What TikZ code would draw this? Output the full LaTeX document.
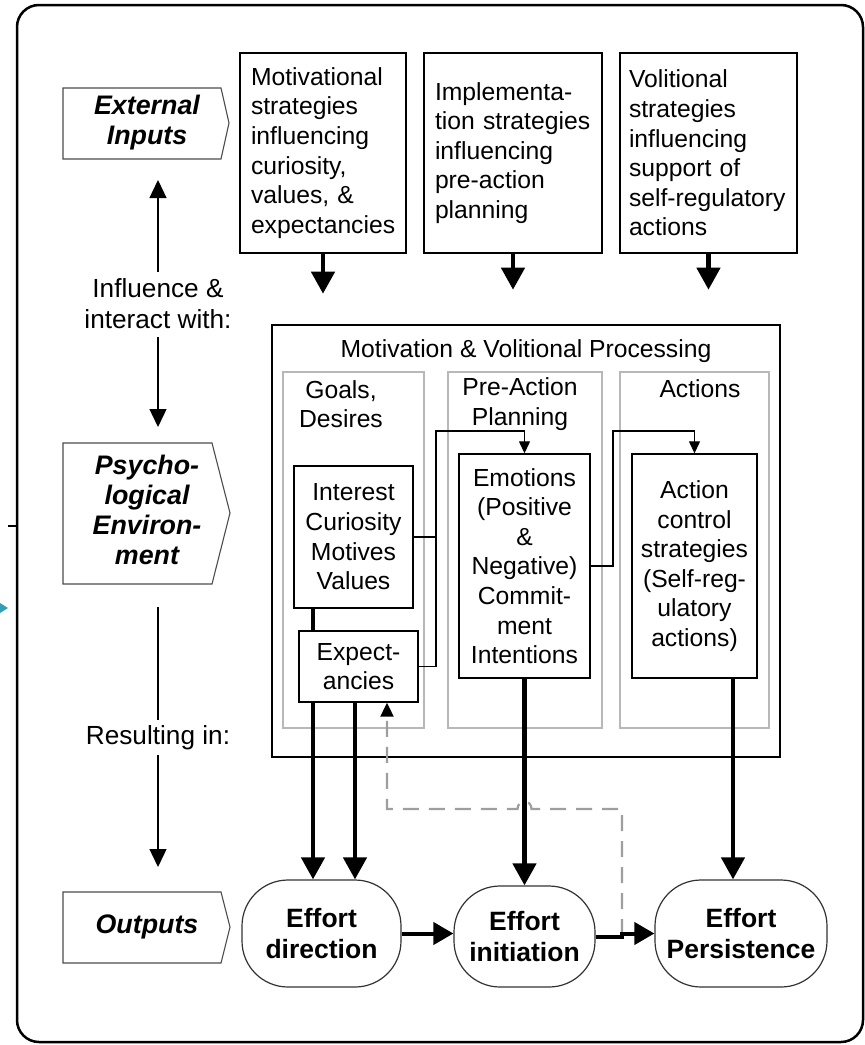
\documentclass[tikz,border=0pt]{standalone}
\usepackage{fontspec}
\setmainfont{Liberation Sans}
\usetikzlibrary{arrows.meta}
\definecolor{tealart}{RGB}{50,160,180}
\begin{document}
\begin{tikzpicture}[x=1pt,y=-1pt,
  txt/.style={font=\fontsize{24.7}{29.6}\selectfont},
  box/.style={draw, line width=1.4pt, fill=white, inner sep=0pt, align=center, txt},
  topbox/.style={box, align=left, inner xsep=11pt, minimum height=200pt},
  colbox/.style={draw=black!28, line width=1.5pt, inner sep=0pt},
  lab/.style={font=\fontsize{26.8}{30}\selectfont\bfseries\itshape, align=center},
  lblshape/.style={draw=black!70, line width=1.1pt},
  side/.style={font=\fontsize{26.2}{31}\selectfont, align=center},
  eff/.style={draw=black!80, line width=1.2pt, rounded corners=46pt, inner sep=0pt, align=center, font=\fontsize{26.5}{31}\selectfont\bfseries},
  bigarrow/.style={line width=4.5pt, -{Triangle[width=23pt,length=22pt]}},
  bigline/.style={line width=4.5pt},
  harrow/.style={line width=4pt, -{Triangle[width=22pt,length=20pt]}},
  sarrow/.style={line width=1.3pt, -{Triangle[width=17pt,length=18pt]}},
  tarrow/.style={line width=1.3pt, -{Triangle[width=11pt,length=12pt]}},
  tline/.style={line width=1.3pt},
  fb/.style={draw=black!38, line width=2.2pt, dash pattern=on 16pt off 10pt}
]
\useasboundingbox (0,0) rectangle (865,1045);
% outer frame
\draw[line width=2.5pt, rounded corners=22pt] (17,5) rectangle (863,1042);
% small artifacts at left edge
\fill[tealart] (0,603) -- (8,608) -- (0,613) -- cycle;
\draw[line width=1.5pt] (8,526) -- (16,526);

% left labels
\draw[lblshape] (63,88) -- (221,88) -- (229,123) -- (221,159) -- (63,159) -- cycle;
\node[lab] (extin) at (147,123) {External\\Inputs};
\draw[lblshape] (63,443) -- (212,443) -- (230,513) -- (212,584) -- (63,584) -- cycle;
\node[lab] (psyenv) at (147,510) {Psycho-\\logical\\Environ-\\ment};
\draw[lblshape] (63,892) -- (221,892) -- (230,927) -- (221,963) -- (63,963) -- cycle;
\node[lab] (outputs) at (147,927) {Outputs};

% left column texts and arrows
\node[side] (infl) at (158,304) {Influence \&\\interact with:};
\node[side] (res) at (158,738) {Resulting in:};
\coordinate (u0) at (158,272);
\coordinate (u1) at (158,180);
\coordinate (u2) at (158,337);
\coordinate (u3) at (158,427);
\coordinate (u4) at (158,607);
\coordinate (u5) at (158,720);
\coordinate (u6) at (158,755);
\coordinate (u7) at (158,867);
\draw[sarrow] (u0) -- (u1);
\draw[sarrow] (u2) -- (u3);
\draw[tline] (u4) -- (u5);
\draw[sarrow] (u6) -- (u7);

% top strategy boxes
\node[topbox, text width=144pt] (box1) at (323,153)
  {Motivational\\strategies\\influencing\\curiosity,\\values, \&\\expectancies};
\node[topbox, text width=156pt] (box2) at (513,153)
  {Implementa-\\tion strategies\\influencing\\pre-action\\planning};
\node[topbox, inner xsep=9pt, text width=159pt] (box3) at (708.5,153)
  {Volitional\\strategies\\influencing\\support of\\\mbox{self-regulatory}\\actions};
\draw[bigarrow] (box1.south) -- ++(0,40);
\draw[bigarrow] (box2.south) -- ++(0,36);
\draw[bigarrow] (box3.south) -- ++(0,36);

% processing box
\node[draw, line width=1.4pt, minimum width=508pt, minimum height=432pt, inner sep=0pt] (proc) at (526,541) {};
\node[txt] (proctitle) at (526,351) {Motivation \& Volitional Processing};
\node[colbox, minimum width=141pt, minimum height=356pt] (col1) at (353.5,550) {};
\node[colbox, minimum width=154pt, minimum height=356pt] (col2) at (525,550) {};
\node[colbox, minimum width=149pt, minimum height=356pt] (col3) at (694.5,550) {};
\node[txt, align=center] (t1) at (341,404) {Goals,\\Desires};
\node[txt, align=center] (t2) at (520,404) {Pre-Action\\Planning};
\node[txt] (t3) at (700,389) {Actions};

% inner boxes
\node[box, minimum width=119pt, minimum height=142pt] (interest) at (353.5,537) {Interest\\Curiosity\\Motives\\Values};
\node[box, minimum width=119pt, minimum height=71pt] (expect) at (358.5,666.5) {Expect-\\ancies};
\node[box, minimum width=131pt, minimum height=224pt] (emotions) at (524.5,566) {Emotions\\(Positive\\\&\\Negative)\\Commit-\\ment\\Intentions};
\node[box, minimum width=125pt, minimum height=224pt] (action) at (694.5,566) {Action\\control\\strategies\\(Self-reg-\\ulatory\\actions)};

% thin connectors
\coordinate (j1) at (436,431);
\coordinate (j2) at (613,431);
\draw[tline] (interest.east) -- (interest.east -| j1);
\draw[tarrow] (expect.east) -| (j1) -| (emotions.north);
\draw[tarrow] (emotions.east) -| (j2) -| (action.north);

% output nodes
\node[eff, minimum width=159pt, minimum height=107pt] (effdir) at (321.5,933.5) {Effort\\direction};
\node[eff, minimum width=141pt, minimum height=101pt] (effinit) at (524.5,936.5) {Effort\\initiation};
\node[eff, minimum width=172pt, minimum height=107pt] (persist) at (741,933.5) {Effort\\Persistence};

% thick arrows down
\coordinate (a1) at ([xshift=-40.5pt]interest.south);
\coordinate (a2) at ([xshift=-3.5pt]expect.south);
\coordinate (a3) at ([xshift=38.5pt]action.south);
\draw[bigline] (a1) -- (a1 |- expect.north);
\draw[bigarrow] (a1 |- expect.south) -- (a1 |- effdir.north);
\draw[bigarrow] (a2) -- (a2 |- effdir.north);
\draw[bigarrow] (emotions.south) -- (emotions.south |- effinit.north);
\draw[bigarrow] (a3) -- (a3 |- persist.north);

% dashed feedback (drawn over the thick arrow so the hop shows)
\coordinate (d0) at (622,935);
\coordinate (d2) at (622,809);
\coordinate (d1) at (387,809);
\draw[fb, -{Triangle[width=13pt,length=14pt,color=black]}]
  (d0) -- (d2) -- (531.5,809) .. controls (531.5,799) and (517.5,799) .. (517.5,809)
  -- (d1) -- (d1 |- expect.south);

% horizontal arrows
\draw[harrow] (effdir.east) -- (effdir.east -| effinit.west);
\draw[harrow] (effinit.east) -- (effinit.east -| d0) -- (d0 |- persist.west) -- (persist.west);
\end{tikzpicture}
\end{document}
